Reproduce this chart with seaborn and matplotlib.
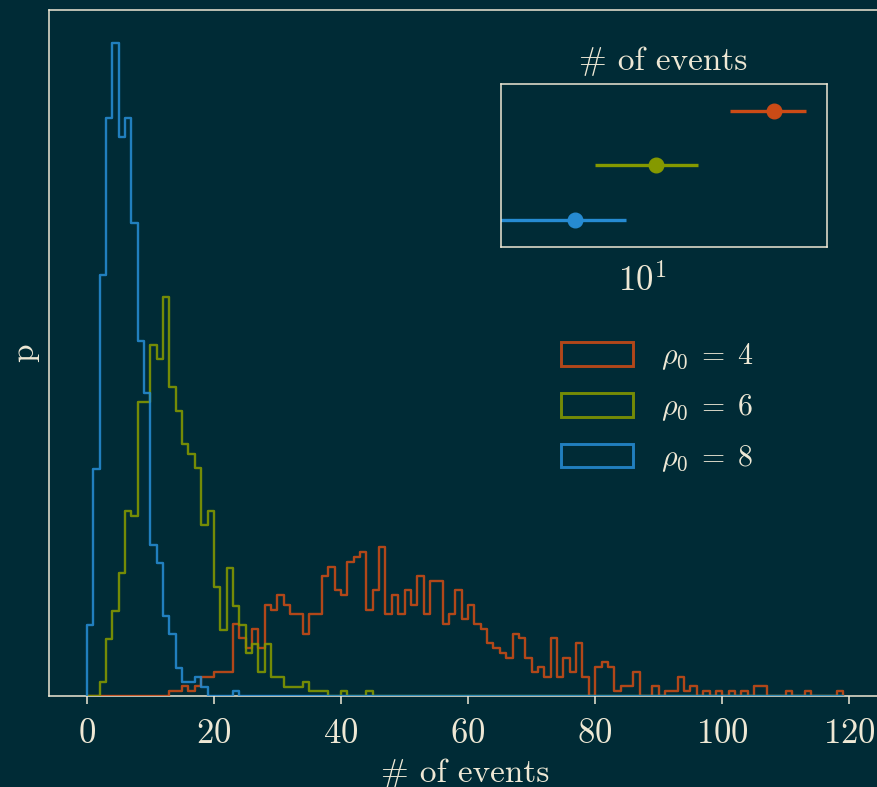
import numpy as np
import pandas as pd
import matplotlib
matplotlib.use("Agg")
import matplotlib.pyplot as plt
from matplotlib.patches import Patch
import seaborn as sns

# ---- data -------------------------------------------------------------
# Event-count histograms (1000 realisations each), integer bins 0..119
bin_edges = list(range(0, 120))

rho_values = [4, 6, 8]
rho_labels = [r"$\rho_0\;=\;4$", r"$\rho_0\;=\;6$", r"$\rho_0\;=\;8$"]
colors = ["#cb4b16", "#859900", "#268bd2"]

# counts per bin, listed from the first occupied bin
rho4_first_bin = 13
rho4_counts = [1, 1, 2, 1, 2, 4, 4, 5, 5, 5,
               15, 12, 10, 14, 10, 19, 18, 21, 19, 17,
               17, 13, 17, 17, 25, 27, 22, 21, 28, 29,
               30, 18, 22, 31, 17, 21, 17, 22, 19, 25,
               17, 24, 24, 15, 17, 22, 16, 19, 15, 14,
               11, 10, 9, 8, 13, 12, 8, 5, 6, 4,
               12, 4, 8, 5, 11, 4, 0, 6, 7, 6,
               1, 2, 2, 5, 0, 0, 2, 0, 1, 1,
               4, 1, 2, 0, 1, 0, 1, 0, 1, 0,
               1, 0, 2, 2, 0, 0, 0, 1, 0, 0,
               1, 0, 0, 0, 0, 1]

rho6_first_bin = 2
rho6_counts = [3, 12, 18, 26, 39, 38, 62, 62, 74, 71,
               84, 65, 60, 53, 51, 48, 36, 39, 23, 14,
               27, 19, 15, 9, 11, 5, 11, 4, 4, 2,
               2, 2, 3, 1, 1, 1, 0, 0, 1, 0,
               0, 0, 1]

rho8_first_bin = 0
rho8_counts = [15, 48, 89, 122, 138, 118, 122, 100, 75, 64,
               32, 28, 17, 13, 6, 3, 3, 4, 2, 0,
               0, 0, 0, 1]

# summary of the number of events: central value with interval
summary_centre = [44.8, 11.6, 4.62]
summary_low = [27.1, 5.80, 1.50]
summary_high = [64.4, 18.9, 8.27]

# ---- style ------------------------------------------------------------
BG = "#002b36"
FG = "#eee8d5"

sns.set_style("dark", rc={
    "axes.facecolor": BG,
    "figure.facecolor": BG,
    "axes.edgecolor": FG,
    "axes.labelcolor": FG,
    "text.color": FG,
    "xtick.color": FG,
    "ytick.color": FG,
    "axes.grid": False,
})
plt.rcParams["font.family"] = ["cmr10", "DejaVu Serif"]
plt.rcParams["mathtext.fontset"] = "cm"
plt.rcParams["axes.formatter.use_mathtext"] = True
plt.rcParams["axes.unicode_minus"] = False

TICK_SIZE = 25
LABEL_SIZE = 24
LEGEND_SIZE = 21.5

fig = plt.figure(figsize=(8.77, 7.87), dpi=100)
ax = fig.add_axes([0.0559, 0.1156, 0.9484, 0.8717])


def full_counts(first, counts):
    arr = np.zeros(len(bin_edges) - 1)
    arr[first:first + len(counts)] = counts
    return arr


series = [
    full_counts(rho4_first_bin, rho4_counts),
    full_counts(rho6_first_bin, rho6_counts),
    full_counts(rho8_first_bin, rho8_counts),
]
centres = np.asarray(bin_edges[:-1]) + 0.5

hist_alpha = 0.88
hist_lw = 1.7
peak = 0.0
for rho, cnt, col in zip(rho_values, series, colors):
    df = pd.DataFrame({"events": centres, "weight": cnt})
    sns.histplot(data=df, x="events", weights="weight", bins=bin_edges,
                 stat="density", element="step", fill=False,
                 color=col, alpha=hist_alpha, linewidth=hist_lw, ax=ax)
    # close the outline down to the baseline at both ends
    line = ax.lines[-1]
    lx, ly = line.get_data()
    lx, ly = np.asarray(lx, float), np.asarray(ly, float)
    line.set_data(np.r_[lx[0], lx, lx[-1]], np.r_[0.0, ly, 0.0])
    peak = max(peak, (cnt / cnt.sum()).max())

ax.set_xlim(-5.95, 124.95)
ax.set_ylim(0, peak * 1.05)
ax.set_xticks([0, 20, 40, 60, 80, 100, 120])
ax.set_yticks([])
ax.tick_params(axis="x", direction="out", length=6, width=1.1,
               labelsize=TICK_SIZE, pad=10, bottom=True)
ax.set_xlabel("# of events", fontsize=LABEL_SIZE, labelpad=6)
ax.set_ylabel("p", fontsize=LABEL_SIZE, labelpad=7)
for side in ["left", "top", "bottom", "right"]:
    ax.spines[side].set_color(FG)
    ax.spines[side].set_linewidth(1.1)
    ax.spines[side].set_zorder(1)

handles = [Patch(facecolor="none", edgecolor=c, alpha=hist_alpha,
                 linewidth=hist_lw + 0.4) for c in colors]
ax.legend(handles, rho_labels, loc="upper left",
          bbox_to_anchor=(0.609, 0.600), bbox_transform=fig.transFigure,
          frameon=False, fontsize=LEGEND_SIZE, handlelength=2.4,
          handleheight=0.83, labelspacing=0.67, handletextpad=0.94)

# ---- inset: summary intervals -----------------------------------------
ins = fig.add_axes([0.5709, 0.6865, 0.3717, 0.2067])
ins.set_facecolor(BG)
ypos = [2, 1, 0]
for yv, c, lo, mid, hi in zip(ypos, colors, summary_low, summary_centre,
                               summary_high):
    ins.errorbar([mid], [yv], xerr=[[mid - lo], [hi - mid]], fmt="o",
                 color=c, ecolor=c, elinewidth=2.4, markersize=10.5,
                 capsize=0)
ins.set_xscale("log")
ins.set_xlim(1.97, 82)
ins.set_ylim(-0.5, 2.5)
ins.set_yticks([0.5, 1.5])
ins.tick_params(axis="y", direction="in", length=2, width=1,
                labelleft=False)
ins.tick_params(axis="x", which="major", direction="out", length=6,
                width=1.1, labelsize=TICK_SIZE, pad=6)
ins.tick_params(axis="x", which="minor", direction="out", length=3,
                width=1.0)
ins.set_title("# of events", fontsize=LABEL_SIZE, pad=10)
for side in ins.spines:
    ins.spines[side].set_color(FG)
    ins.spines[side].set_linewidth(1.1)

fig.savefig("out.png", dpi=100, facecolor=BG)
